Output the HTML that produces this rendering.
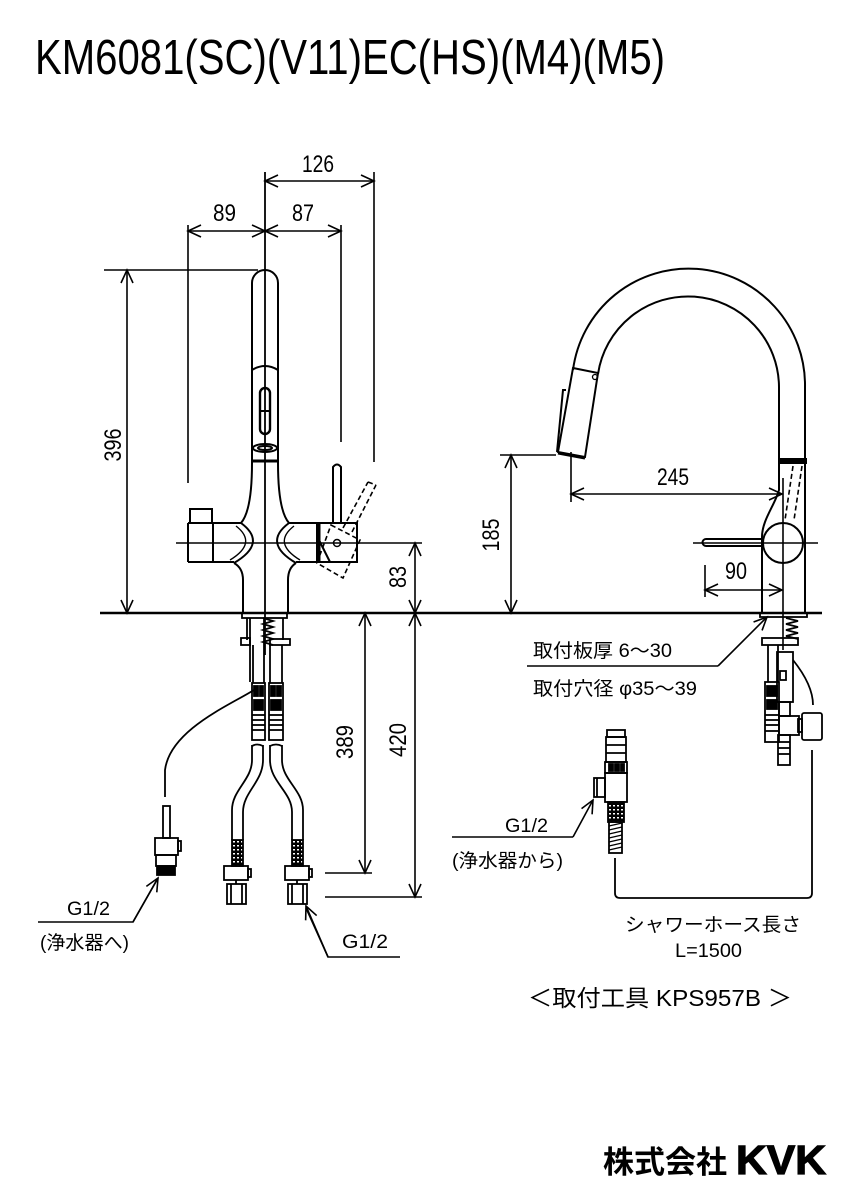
<!DOCTYPE html>
<html><head><meta charset="utf-8"><style>
html,body{margin:0;padding:0;background:#fff}
svg{display:block}
text{font-family:"Liberation Sans","Noto Sans CJK JP",sans-serif;fill:#000}
</style></head><body>
<svg width="849" height="1200" viewBox="0 0 849 1200" xmlns="http://www.w3.org/2000/svg">
<defs>
<marker id="a" viewBox="-15 -8 17 16" refX="0" refY="0" markerWidth="17" markerHeight="16" orient="auto-start-reverse" markerUnits="userSpaceOnUse">
<path d="M-13,-6 L0,0 L-13,6" fill="none" stroke="#000" stroke-width="1.6"/></marker>
<pattern id="br" width="4" height="4" patternUnits="userSpaceOnUse"><rect width="4" height="4" fill="#000"/><rect x="1" y="1" width="2" height="1.5" fill="#fff"/></pattern>
</defs>
<rect width="849" height="1200" fill="#fff"/>

<!-- Title -->
<text x="35" y="74" font-size="49" textLength="630" lengthAdjust="spacingAndGlyphs">KM6081(SC)(V11)EC(HS)(M4)(M5)</text>

<g stroke="#000" fill="none" stroke-width="1.6">
<!-- counter line -->
<line x1="100" y1="613" x2="822" y2="613" stroke-width="2.5"/>

<!-- front dims -->
<line x1="265" y1="172" x2="265" y2="655" stroke-width="1.8"/>
<line x1="374" y1="172" x2="374" y2="462"/>
<line x1="188" y1="225" x2="188" y2="483"/>
<line x1="341" y1="225" x2="341" y2="442"/>
<line x1="265" y1="181" x2="374" y2="181" marker-start="url(#a)" marker-end="url(#a)"/>
<line x1="188" y1="231" x2="265" y2="231" marker-start="url(#a)" marker-end="url(#a)"/>
<line x1="265" y1="231" x2="341" y2="231" marker-start="url(#a)" marker-end="url(#a)"/>
<line x1="104" y1="270" x2="258" y2="270"/>
<line x1="127" y1="270" x2="127" y2="613" marker-start="url(#a)" marker-end="url(#a)"/>
<line x1="176" y1="543" x2="422" y2="543"/>
<line x1="415" y1="543" x2="415" y2="613" marker-start="url(#a)" marker-end="url(#a)"/>
<line x1="365" y1="613" x2="365" y2="873" marker-start="url(#a)" marker-end="url(#a)"/>
<line x1="325" y1="873" x2="372" y2="873"/>
<line x1="415" y1="613" x2="415" y2="897" marker-start="url(#a)" marker-end="url(#a)"/>
<line x1="325" y1="897" x2="422" y2="897"/>

<!-- front faucet -->
<g stroke-width="2">
<path d="M252,463 L252,283 A13,13 0 0 1 278,283 L278,463"/>
<path d="M252,370 Q265,362 278,370"/>
<rect x="260" y="388" width="10" height="46" rx="5" stroke-width="2.4"/>
<line x1="260" y1="411" x2="270" y2="411"/>
<ellipse cx="265" cy="448" rx="12" ry="4"/>
<ellipse cx="265" cy="448" rx="7" ry="2"/>
<line x1="252" y1="461" x2="278" y2="461" stroke-width="3"/>
<path d="M252,463 C252,495 248,515 241,523"/>
<path d="M278,463 C278,495 282,515 289,523"/>
<line x1="188" y1="523" x2="241" y2="523"/>
<line x1="289" y1="523" x2="317" y2="523"/>
<line x1="188" y1="562" x2="234" y2="562"/>
<line x1="296" y1="562" x2="317" y2="562"/>
<line x1="188" y1="523" x2="188" y2="562"/>
<line x1="213" y1="523" x2="213" y2="562"/>
<rect x="190" y="509" width="22" height="14"/>
<path d="M241,523 Q268,543 234,563"/>
<path d="M236,526 Q258,543 230,560" stroke-width="1.4"/>
<path d="M289,523 Q262,543 296,563"/>
<path d="M294,526 Q272,543 300,560" stroke-width="1.4"/>
<path d="M234,563 Q243,568 243,580 L243,613"/>
<path d="M296,563 Q288,568 288,580 L288,613"/>
<rect x="317" y="523" width="40" height="39"/>
<line x1="319" y1="523" x2="319" y2="562" stroke-width="3"/>
<line x1="319" y1="540" x2="330" y2="562"/>
<path d="M333,523 L333,467 Q337,462 341,467 L341,523"/>
<circle cx="337" cy="543" r="3.5" stroke-width="1.5"/>
</g>
<g stroke-dasharray="5,3" stroke-width="1.6">
<polygon points="331,525 360,540 343,578 317,563"/>
<line x1="343" y1="528" x2="368" y2="482"/>
<line x1="352" y1="532" x2="376" y2="485"/>
<line x1="368" y1="482" x2="376" y2="485"/>
</g>

<!-- front under counter -->
<g stroke-width="1.8">
<rect x="242" y="613" width="45" height="5"/>
<line x1="247" y1="618" x2="247" y2="640"/>
<line x1="283" y1="618" x2="283" y2="640"/>
<path d="M263,618 L273,621 L263,624 L273,627 L263,630 L273,633 L263,636 L273,639 L263,642 L273,645"/>
<rect x="241" y="638" width="9" height="7"/>
<line x1="250" y1="618" x2="250" y2="682"/>
<rect x="270" y="639" width="20" height="6"/>
<line x1="253" y1="645" x2="253" y2="683"/>
<line x1="264" y1="618" x2="264" y2="683"/>
<line x1="270" y1="645" x2="270" y2="683"/>
<line x1="282" y1="645" x2="282" y2="683"/>
<!-- connectors -->
<rect x="252" y="683" width="13" height="57"/>
<rect x="269" y="683" width="14" height="57"/>
<rect x="254" y="686" width="4" height="10" fill="#000"/><rect x="260" y="686" width="3" height="10" fill="#000"/>
<rect x="271" y="686" width="4" height="10" fill="#000"/><rect x="277" y="686" width="4" height="10" fill="#000"/>
<rect x="254" y="700" width="9" height="10" fill="#000"/><rect x="271" y="700" width="10" height="10" fill="#000"/>
<line x1="252" y1="715" x2="265" y2="715"/><line x1="252" y1="720" x2="265" y2="720"/><line x1="252" y1="725" x2="265" y2="725"/><line x1="252" y1="730" x2="265" y2="730"/>
<line x1="269" y1="715" x2="283" y2="715"/><line x1="269" y1="720" x2="283" y2="720"/><line x1="269" y1="725" x2="283" y2="725"/><line x1="269" y1="730" x2="283" y2="730"/>
<!-- hoses -->
<path d="M252,745 L252,760 C252,780 232,790 232,810 L232,840"/>
<path d="M263,745 L263,760 C263,782 243,792 243,812 L243,840"/>
<path d="M270,745 L270,760 C270,782 292,792 292,812 L292,840"/>
<path d="M282,745 L282,760 C282,780 303,790 303,810 L303,840"/>
<path d="M252,746 Q257,743 263,746"/>
<path d="M270,746 Q276,743 282,746"/>
<rect x="232" y="840" width="11" height="26" fill="url(#br)"/>
<rect x="292" y="840" width="11" height="26" fill="url(#br)"/>
<rect x="224" y="866" width="24" height="14"/><rect x="248" y="869" width="3" height="8"/>
<rect x="227" y="884" width="19" height="20"/><line x1="231" y1="884" x2="231" y2="904"/><line x1="242" y1="884" x2="242" y2="904"/>
<line x1="236" y1="880" x2="236" y2="884"/>
<rect x="285" y="866" width="24" height="14"/><rect x="309" y="869" width="3" height="8"/>
<rect x="288" y="884" width="19" height="20"/><line x1="292" y1="884" x2="292" y2="904"/><line x1="303" y1="884" x2="303" y2="904"/>
<line x1="297" y1="880" x2="297" y2="884"/>
<!-- purifier tube -->
<path d="M254,690 C230,705 170,730 165,770 L165,797"/>
<rect x="163" y="806" width="7" height="32"/>
<rect x="155" y="838" width="23" height="17"/><rect x="178" y="841" width="3" height="10"/>
<rect x="156" y="855" width="20" height="11"/>
<rect x="157" y="866" width="18" height="9" fill="#000"/>
</g>

<!-- left leaders -->
<polyline points="38,922 133,922 158,878"/>
<line x1="133" y1="922" x2="158" y2="878" marker-end="url(#a)"/>
<polyline points="400,957 328,957 306,908"/>
<line x1="328" y1="957" x2="306" y2="906" marker-end="url(#a)"/>

<!-- right view -->
<g stroke-width="2">
<path d="M573,370 A116.5,116.5 0 0 1 805,387 L805,613"/>
<path d="M598,374 A91,91 0 0 1 779,387 L779,490 C775,505 762,520 762,537 L762,613"/>
<polygon points="573,368 598,373 585,457 558,452"/>
<polyline points="566,390 563,390 557,452"/>
<line x1="558" y1="453" x2="585" y2="458" stroke-width="3"/>
<rect x="779" y="459" width="27" height="4" fill="#000"/>
<circle cx="783" cy="543" r="20"/>
<path d="M762,539 L706,539 A3.5,3.5 0 0 0 706,546 L762,546"/>
</g>
<circle cx="595" cy="377" r="2.5" stroke-width="1.3"/>
<g stroke-dasharray="5,3" stroke-width="1.6">
<line x1="793" y1="466" x2="785" y2="520"/>
<line x1="802" y1="466" x2="794" y2="520"/>
</g>
<line x1="693" y1="543" x2="818" y2="543"/>
<line x1="783" y1="478" x2="783" y2="650"/>
<line x1="500" y1="455" x2="556" y2="455"/>
<line x1="511" y1="455" x2="511" y2="613" marker-start="url(#a)" marker-end="url(#a)"/>
<line x1="571" y1="452" x2="571" y2="502"/>
<line x1="571" y1="494" x2="782" y2="494" marker-start="url(#a)" marker-end="url(#a)"/>
<line x1="705" y1="565" x2="705" y2="597"/>
<line x1="705" y1="590" x2="782" y2="590" marker-start="url(#a)" marker-end="url(#a)"/>

<!-- right under counter -->
<g stroke-width="1.8">
<rect x="760" y="613" width="47" height="4"/>
<path d="M786,618 L798,621 L786,624 L798,627 L786,630 L798,633 L786,636 L798,639"/>
<rect x="762" y="638" width="36" height="7"/>
<line x1="768" y1="645" x2="768" y2="682"/>
<line x1="778" y1="645" x2="778" y2="682"/>
<rect x="777" y="652" width="16" height="50"/>
<rect x="780" y="671" width="6" height="9"/>
<rect x="765" y="682" width="14" height="60"/>
<rect x="767" y="686" width="10" height="10" fill="#000"/>
<rect x="767" y="700" width="10" height="9" fill="#000"/>
<line x1="765" y1="715" x2="779" y2="715"/><line x1="765" y1="720" x2="779" y2="720"/><line x1="765" y1="725" x2="779" y2="725"/><line x1="765" y1="731" x2="779" y2="731"/>
<rect x="779" y="702" width="11" height="14"/>
<rect x="779" y="716" width="20" height="19"/>
<rect x="798" y="719" width="4" height="13"/>
<rect x="802" y="713" width="20" height="27" rx="2"/>
<rect x="778" y="735" width="12" height="30"/>
<line x1="778" y1="742" x2="790" y2="742"/><line x1="778" y1="748" x2="790" y2="748"/><line x1="778" y1="754" x2="790" y2="754"/>
<path d="M793,660 C805,675 813,690 813,705"/>
<path d="M615,858 L615,893 Q615,898 620,898 L807,898 Q812,898 812,893 L812,750"/>
<!-- loose fitting -->
<rect x="607" y="730" width="18" height="7"/>
<rect x="606" y="737" width="20" height="25"/>
<line x1="606" y1="745" x2="626" y2="745"/><line x1="606" y1="753" x2="626" y2="753"/>
<rect x="605" y="762" width="22" height="11"/>
<rect x="609" y="764" width="4" height="7" fill="#000"/><rect x="615" y="764" width="4" height="7" fill="#000"/><rect x="621" y="764" width="3" height="7" fill="#000"/>
<rect x="605" y="773" width="22" height="29"/>
<rect x="594" y="778" width="11" height="19"/>
<line x1="597" y1="778" x2="597" y2="797"/>
<rect x="608" y="802" width="16" height="20" fill="url(#br)"/>
<rect x="609" y="822" width="13" height="31"/>
<path d="M609,826 L622,823 M609,830 L622,827 M609,834 L622,831 M609,838 L622,835 M609,842 L622,839 M609,846 L622,843 M609,850 L622,847" stroke-width="1.4"/>
</g>
<polyline points="452,837 573,837"/>
<line x1="573" y1="837" x2="593" y2="800" marker-end="url(#a)"/>
<polyline points="527,666 718,666"/>
<line x1="718" y1="666" x2="767" y2="617" marker-end="url(#a)"/>
</g>

<!-- dimension texts -->
<g font-size="24">
<text x="302" y="172" textLength="32" lengthAdjust="spacingAndGlyphs">126</text>
<text x="213" y="221" textLength="23" lengthAdjust="spacingAndGlyphs">89</text>
<text x="292" y="221" textLength="22" lengthAdjust="spacingAndGlyphs">87</text>
<text x="657" y="485" textLength="32" lengthAdjust="spacingAndGlyphs">245</text>
<text x="725" y="579" textLength="22" lengthAdjust="spacingAndGlyphs">90</text>
<text transform="translate(121,445) rotate(-90)" text-anchor="middle" textLength="33" lengthAdjust="spacingAndGlyphs">396</text>
<text transform="translate(406,577) rotate(-90)" text-anchor="middle" textLength="22" lengthAdjust="spacingAndGlyphs">83</text>
<text transform="translate(499,535) rotate(-90)" text-anchor="middle" textLength="33" lengthAdjust="spacingAndGlyphs">185</text>
<text transform="translate(353,742) rotate(-90)" text-anchor="middle" textLength="34" lengthAdjust="spacingAndGlyphs">389</text>
<text transform="translate(406,740) rotate(-90)" text-anchor="middle" textLength="34" lengthAdjust="spacingAndGlyphs">420</text>
</g>

<g font-size="19">
<text x="67" y="915" textLength="43" lengthAdjust="spacingAndGlyphs">G1/2</text>
<text x="40" y="949" textLength="89" lengthAdjust="spacingAndGlyphs">(浄水器へ)</text>
<text x="342" y="948" textLength="46" lengthAdjust="spacingAndGlyphs">G1/2</text>
<text x="505" y="832" textLength="43" lengthAdjust="spacingAndGlyphs">G1/2</text>
<text x="452" y="867" textLength="111" lengthAdjust="spacingAndGlyphs">(浄水器から)</text>
<text x="533" y="657" textLength="139" lengthAdjust="spacingAndGlyphs">取付板厚 6〜30</text>
<text x="533" y="695" textLength="164" lengthAdjust="spacingAndGlyphs">取付穴径 φ35〜39</text>
<text x="625" y="931" textLength="176" lengthAdjust="spacingAndGlyphs">シャワーホース長さ</text>
<text x="675" y="957" textLength="67" lengthAdjust="spacingAndGlyphs">L=1500</text>
<text x="528" y="1006" font-size="23" textLength="264" lengthAdjust="spacingAndGlyphs">＜取付工具 KPS957B ＞</text>
</g>

<text x="603" y="1173" font-size="31" font-weight="bold" textLength="124" lengthAdjust="spacingAndGlyphs">株式会社</text>
<text x="736" y="1174" font-size="41" font-weight="bold" textLength="90" lengthAdjust="spacingAndGlyphs" stroke="#000" stroke-width="1.2">KVK</text>
</svg>
</body></html>
